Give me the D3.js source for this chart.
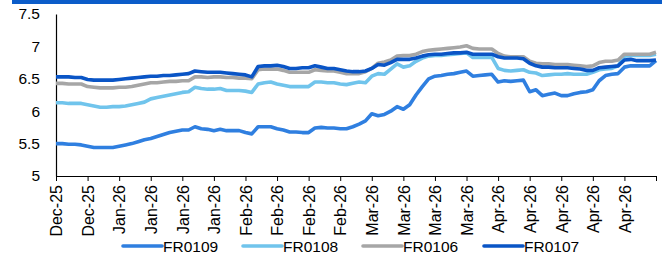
<!DOCTYPE html>
<html>
<head>
<meta charset="utf-8">
<script src="https://cdn.jsdelivr.net/npm/d3@7"></script>
<style>
  body { margin: 0; background: #fff; }
  svg text { font-family: "Liberation Sans Narrow", "Liberation Sans", Arial, sans-serif; fill: #000; }
</style>
</head>
<body>
<svg id="chart" width="662" height="254"></svg>
<script>
// ---- data (one value per trading day) ----
const seriesNames = ["FR0109", "FR0108", "FR0106", "FR0107"];
const seriesColors = ["#2f7fe0", "#70c4ec", "#a6a6a6", "#0a55c6"];

const fr0109 = [5.50,5.50,5.49,5.49,5.48,5.46,5.44,5.44,5.44,5.44,5.46,5.48,5.50,5.53,5.56,5.58,5.61,5.64,5.67,5.69,
  5.71,5.71,5.76,5.73,5.72,5.70,5.72,5.70,5.70,5.70,5.67,5.65,5.76,5.76,5.76,5.73,5.71,5.68,5.68,5.67,
  5.67,5.74,5.75,5.74,5.74,5.73,5.73,5.76,5.80,5.85,5.96,5.93,5.95,6.00,6.07,6.03,6.10,6.25,6.38,6.50,
  6.54,6.55,6.57,6.58,6.60,6.62,6.54,6.55,6.56,6.57,6.45,6.47,6.46,6.47,6.48,6.30,6.33,6.24,6.26,6.28,
  6.24,6.24,6.27,6.29,6.30,6.33,6.47,6.55,6.57,6.58,6.68,6.70,6.70,6.70,6.70,6.78];
const fr0108 = [6.13,6.13,6.12,6.12,6.12,6.10,6.08,6.06,6.06,6.07,6.07,6.08,6.10,6.12,6.14,6.19,6.21,6.23,6.25,6.27,
  6.29,6.30,6.37,6.35,6.34,6.34,6.35,6.32,6.32,6.32,6.31,6.29,6.42,6.44,6.45,6.42,6.40,6.38,6.38,6.38,
  6.38,6.45,6.45,6.44,6.44,6.42,6.41,6.43,6.45,6.44,6.54,6.58,6.57,6.65,6.73,6.68,6.70,6.77,6.82,6.85,
  6.86,6.86,6.87,6.88,6.89,6.90,6.83,6.83,6.83,6.83,6.66,6.63,6.62,6.63,6.64,6.60,6.59,6.55,6.56,6.57,
  6.57,6.58,6.57,6.57,6.57,6.60,6.64,6.65,6.66,6.70,6.85,6.86,6.86,6.86,6.86,6.88];
const fr0106 = [6.43,6.43,6.42,6.42,6.42,6.38,6.37,6.36,6.36,6.36,6.37,6.37,6.38,6.40,6.42,6.44,6.44,6.45,6.46,6.46,
  6.47,6.47,6.53,6.53,6.52,6.53,6.53,6.52,6.52,6.51,6.51,6.50,6.64,6.65,6.65,6.65,6.63,6.60,6.60,6.60,
  6.60,6.64,6.63,6.62,6.62,6.60,6.58,6.58,6.58,6.61,6.66,6.74,6.76,6.79,6.85,6.86,6.86,6.88,6.92,6.94,
  6.95,6.96,6.97,6.98,6.99,7.01,6.97,6.96,6.96,6.96,6.89,6.85,6.84,6.84,6.84,6.77,6.74,6.73,6.73,6.72,
  6.72,6.72,6.71,6.70,6.69,6.70,6.75,6.77,6.77,6.79,6.88,6.88,6.88,6.88,6.88,6.91];
const fr0107 = [6.53,6.53,6.53,6.52,6.52,6.49,6.48,6.48,6.48,6.48,6.49,6.50,6.51,6.52,6.53,6.54,6.54,6.55,6.55,6.56,
  6.57,6.58,6.62,6.61,6.60,6.60,6.60,6.59,6.58,6.57,6.56,6.53,6.69,6.70,6.70,6.71,6.69,6.66,6.66,6.67,
  6.67,6.70,6.68,6.66,6.66,6.64,6.62,6.61,6.61,6.62,6.66,6.72,6.71,6.75,6.80,6.80,6.80,6.82,6.85,6.87,
  6.88,6.88,6.89,6.90,6.90,6.91,6.88,6.88,6.88,6.88,6.84,6.82,6.82,6.82,6.81,6.74,6.70,6.68,6.68,6.67,
  6.67,6.67,6.66,6.65,6.63,6.63,6.67,6.68,6.69,6.70,6.79,6.80,6.78,6.78,6.78,6.79];

const tickLabels = ["Dec-25","Dec-25","Jan-26","Jan-26","Jan-26","Jan-26","Feb-26","Feb-26","Feb-26","Feb-26",
  "Mar-26","Mar-26","Mar-26","Mar-26","Apr-26","Apr-26","Apr-26","Apr-26","Apr-26"];
const yTicks = [5, 5.5, 6, 6.5, 7, 7.5];

const allSeries = [fr0109, fr0108, fr0106, fr0107];

// ---- layout ----
const svg = d3.select("#chart");
const plotL = 56, plotR = 656, plotT = 14, plotB = 176;
const n = fr0109.length;

const x = d3.scaleLinear().domain([0, n - 1]).range([plotL, plotR]);
const y = d3.scaleLinear().domain([5, 7.5]).range([plotB, plotT]);

// cropped title bar at the top
svg.append("rect").attr("x", 12).attr("y", 0).attr("width", 650).attr("height", 4).attr("fill", "#0b5cc9");

// y axis
const yAxis = svg.append("g")
  .attr("transform", `translate(${plotL},0)`)
  .call(d3.axisLeft(y).tickValues(yTicks).tickSize(0).tickPadding(16).tickFormat(d3.format("")));
yAxis.select(".domain").attr("stroke", "#000").attr("stroke-width", 1.2);
yAxis.selectAll("text").attr("font-size", 15.5);

// x axis: a tick every 5 days, labelled except the last
const tickIdx = d3.range(0, n, 5);
const xAxis = svg.append("g")
  .attr("transform", `translate(0,${plotB})`)
  .call(d3.axisBottom(x).tickValues(tickIdx).tickSize(5).tickSizeOuter(0)
    .tickFormat((d, i) => tickLabels[i] || ""));
xAxis.select(".domain").attr("stroke", "#000").attr("stroke-width", 1.2);
xAxis.selectAll(".tick line").attr("stroke", "#000");
xAxis.selectAll("text")
  .attr("font-size", 16)
  .attr("text-anchor", "end")
  .attr("dx", "-9px")
  .attr("dy", "0.36em")
  .attr("transform", "rotate(-90)")
  .attr("y", 0).attr("x", 0);

// lines
const line = d3.line().x((d, i) => x(i)).y(d => y(d));
allSeries.forEach((s, k) => {
  svg.append("path")
    .datum(s)
    .attr("fill", "none")
    .attr("stroke", seriesColors[k])
    .attr("stroke-width", 3.6)
    .attr("stroke-linejoin", "round")
    .attr("d", line);
});

// legend
const legendX = [123, 243, 363, 484];
const legend = svg.append("g").attr("class", "legend");
seriesNames.forEach((name, k) => {
  legend.append("line")
    .attr("x1", legendX[k]).attr("x2", legendX[k] + 39)
    .attr("y1", 246).attr("y2", 246)
    .attr("stroke", seriesColors[k]).attr("stroke-width", 3.6).attr("stroke-linecap", "round");
  legend.append("text")
    .attr("x", legendX[k] + 40).attr("y", 251.5)
    .attr("font-size", 15.5)
    .text(name);
});
</script>
</body>
</html>
